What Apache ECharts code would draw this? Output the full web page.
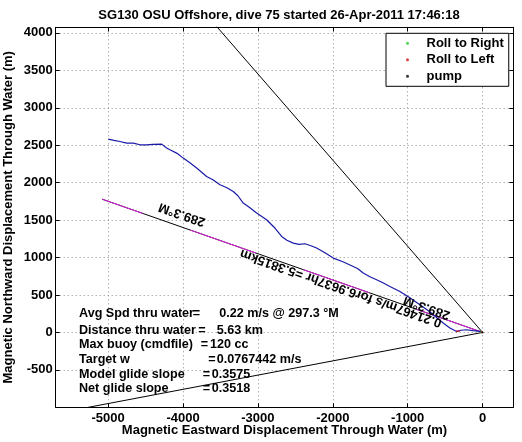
<!DOCTYPE html>
<html><head><meta charset="utf-8">
<script src="https://cdn.jsdelivr.net/npm/echarts@6/dist/echarts.min.js"></script>
<style>html,body{margin:0;padding:0;background:#fff}#c{width:522px;height:442px}</style>
</head><body><div id="c"></div>
<script>
// ---- data ----
const titleText = 'SG130 OSU Offshore, dive 75 started 26-Apr-2011 17:46:18';
const xName = 'Magnetic Eastward Displacement Through Water (m)';
const yName = 'Magnetic Northward Displacement Through Water (m)';
const xTicks = [-5000, -4000, -3000, -2000, -1000, 0];
const yTicks = [-500, 0, 500, 1000, 1500, 2000, 2500, 3000, 3500, 4000];
const trackX = [-4998,-4922,-4842,-4753,-4664,-4575,-4486,-4401,-4285,-4219,-4175,-4085,-3997,-3908,-3818,-3685,-3601,-3507,-3414,-3329,-3267,-3196,-3107,-3017,-2884,-2773,-2683,-2613,-2528,-2452,-2372,-2292,-2216,-2105,-1994,-1865,-1727,-1665,-1594,-1505,-1415,-1331,-1238,-1104,-971,-837,-704,-610,-526,-437,-347,-290,-214,-129,-36,0];
const trackY = [2582,2566,2550,2528,2528,2506,2506,2512,2515,2462,2439,2395,2328,2265,2195,2083,2039,1972,1932,1882,1825,1727,1665,1594,1505,1394,1282,1231,1193,1177,1184,1157,1127,1064,993,944,881,850,793,744,704,663,614,547,463,370,276,196,125,59,13,29,36,23,13,0];
const courseLine = [[0, 0], [-5079, 1779]];
const upperLine = [[0, 0], [-4235, 4873]];
const lowerLine = [[0, 0], [-6000, -1140]];
const rollRight = [[-20, 2]];
const rollLeft = [[-345, 12], [-315, 18], [-10, 1]];
const pump = [[0, 0]];
const courseLabel = '0.21467m/s for6.9637hr =5.3815km';
const headingLabel = '289.3°M';
const infoLabels = ['Avg Spd thru water', 'Distance thru water', 'Max buoy (cmdfile)', 'Target w', 'Model glide slope', 'Net glide slope'];
const infoValues = ['0.22 m/s @ 297.3 °M', '5.63 km', '120 cc', '0.0767442 m/s', '0.3575', '0.3518'];

// ---- chart ----
const FONT = '"Liberation Sans", Arial, Helvetica, sans-serif';
const chart = echarts.init(document.getElementById('c'), null, {renderer: 'canvas'});
const trackData = trackX.map((x, i) => [x, trackY[i]]);
const gridLine = {show: true, lineStyle: {color: '#8c8c8c', type: [1, 3], width: 1}};
const axisCommon = {type: 'value', axisLine: {show: true, onZero: false, lineStyle: {color: '#000', width: 1}}};

chart.setOption({
  animation: false,
  backgroundColor: '#fff',
  grid: {left: 55.7, top: 27.3, right: 8.7, bottom: 34.7, containLabel: false, outerBoundsMode: 'none'},
  xAxis: [
    Object.assign({}, axisCommon, {
      position: 'bottom', min: -5700, max: 410,
      name: xName, nameLocation: 'middle', nameGap: 17, nameMoveOverlap: false,
      nameTextStyle: {fontFamily: FONT, fontWeight: 'bold', fontSize: 13, color: '#000', verticalAlign: 'top'},
      axisTick: {show: true, inside: true, length: 4, customValues: xTicks, lineStyle: {color: '#000'}},
      axisLabel: {show: true, customValues: xTicks, margin: 5, fontFamily: FONT, fontWeight: 'bold', fontSize: 13, color: '#000', formatter: v => String(v)},
      splitLine: gridLine
    }),
    Object.assign({}, axisCommon, {
      position: 'top', min: -5700, max: 410,
      axisTick: {show: true, inside: true, length: 4, customValues: xTicks, lineStyle: {color: '#000'}},
      axisLabel: {show: false, customValues: xTicks},
      splitLine: {show: false}
    })
  ],
  yAxis: [
    Object.assign({}, axisCommon, {
      position: 'left', min: -1000, max: 4075,
      name: yName, nameLocation: 'middle', nameGap: 41, nameMoveOverlap: false,
      nameTextStyle: {fontFamily: FONT, fontWeight: 'bold', fontSize: 13, color: '#000'},
      axisTick: {show: true, inside: true, length: 4, customValues: yTicks, lineStyle: {color: '#000'}},
      axisLabel: {show: true, customValues: yTicks, margin: 3, fontFamily: FONT, fontWeight: 'bold', fontSize: 13, color: '#000', formatter: v => String(v)},
      splitLine: gridLine
    }),
    Object.assign({}, axisCommon, {
      position: 'right', min: -1000, max: 4075,
      axisTick: {show: true, inside: true, length: 4, customValues: yTicks, lineStyle: {color: '#000'}},
      axisLabel: {show: false, customValues: yTicks},
      splitLine: {show: false}
    })
  ],
  legend: {
    orient: 'vertical', left: 386, top: 33.3,
    padding: [3, 5, 3, 20], itemGap: 2.5,
    itemWidth: 28, itemHeight: 3, icon: 'circle',
    backgroundColor: '#fff', borderColor: '#000', borderWidth: 1, borderRadius: 0,
    textStyle: {fontFamily: FONT, fontWeight: 'bold', fontSize: 13, color: '#000', lineHeight: 14},
    data: ['Roll to Right', 'Roll to Left', 'pump']
  },
  series: [
    {type: 'line', name: 'upper', data: upperLine, showSymbol: false, clip: true, lineStyle: {color: '#000', width: 1}, silent: true, z: 2},
    {type: 'line', name: 'lower', data: lowerLine, showSymbol: false, clip: true, lineStyle: {color: '#000', width: 1}, silent: true, z: 2},
    {type: 'line', name: 'course', data: courseLine, showSymbol: false, clip: true, lineStyle: {color: '#000', width: 1}, silent: true, z: 2},
    {type: 'line', name: 'course2', data: courseLine, showSymbol: false, clip: true, lineStyle: {color: '#e020e0', width: 1, type: [70, 50]}, silent: true, z: 3},
    {type: 'line', name: 'track', data: trackData, showSymbol: false, clip: true, lineStyle: {color: '#1a1aa8', width: 1.2}, silent: true, z: 4},
    {type: 'scatter', name: 'Roll to Right', data: rollRight, symbolSize: 2, itemStyle: {color: '#22cc22'}, z: 5},
    {type: 'scatter', name: 'Roll to Left', data: rollLeft, symbolSize: 2, itemStyle: {color: '#d01010'}, z: 5},
    {type: 'scatter', name: 'pump', data: pump, symbolSize: 2, itemStyle: {color: '#000'}, z: 5}
  ]
});

// ---- annotations ----
function px(p) { return chart.convertToPixel({xAxisIndex: 0, yAxisIndex: 0}, p); }
const o = px(courseLine[0]), e = px(courseLine[1]);
let dx = e[0] - o[0], dy = e[1] - o[1];
const L = Math.hypot(dx, dy); dx /= L; dy /= L;
const rot = Math.atan2(-dy, dx);
const upN = [-dy, dx]; // perpendicular, pointing up on screen
function along(frac, off) {
  const p = px([courseLine[1][0] * frac, courseLine[1][1] * frac]);
  return [p[0] + upN[0] * off, p[1] + upN[1] * off];
}
const fLong = 1871 / 5079, fA = 4067 / 5079, fB = 769 / 5079;
const pL = along(fLong, -5), pA = along(fA, 12), pB = along(fB, 5);
const rotText = (p, txt) => ({
  type: 'text', x: p[0], y: p[1], rotation: rot, z: 10,
  style: {text: txt, fill: '#000', font: 'bold 13px ' + FONT, textAlign: 'center', textVerticalAlign: 'middle'}
});
const infoRowsY = [313.5, 330.5, 345, 360, 374.5, 389];
const infoEqX = [192.7, 198.3, 200.7, 208.3, 202.7, 202.7];
const infoValX = [219.3, 216.7, 210, 216.7, 211.7, 211.7];
const graphics = [
  {type: 'text', x: 279, y: 15, z: 10, style: {text: titleText, fill: '#000', font: 'bold 13px ' + FONT, textAlign: 'center', textVerticalAlign: 'middle'}},
  rotText(pL, courseLabel), rotText(pA, headingLabel), rotText(pB, headingLabel)
];
const tStyle = (t) => ({text: t, fill: '#000', font: 'bold 12.6px ' + FONT, textAlign: 'left', textVerticalAlign: 'middle'});
infoLabels.forEach((t, i) => {
  graphics.push({type: 'text', x: 79, y: infoRowsY[i], z: 10, style: tStyle(t)});
  graphics.push({type: 'text', x: infoEqX[i], y: infoRowsY[i], z: 10, style: tStyle('=')});
  graphics.push({type: 'text', x: infoValX[i], y: infoRowsY[i], z: 10, style: tStyle(infoValues[i])});
});
chart.setOption({graphic: graphics});
</script>
</body></html>
